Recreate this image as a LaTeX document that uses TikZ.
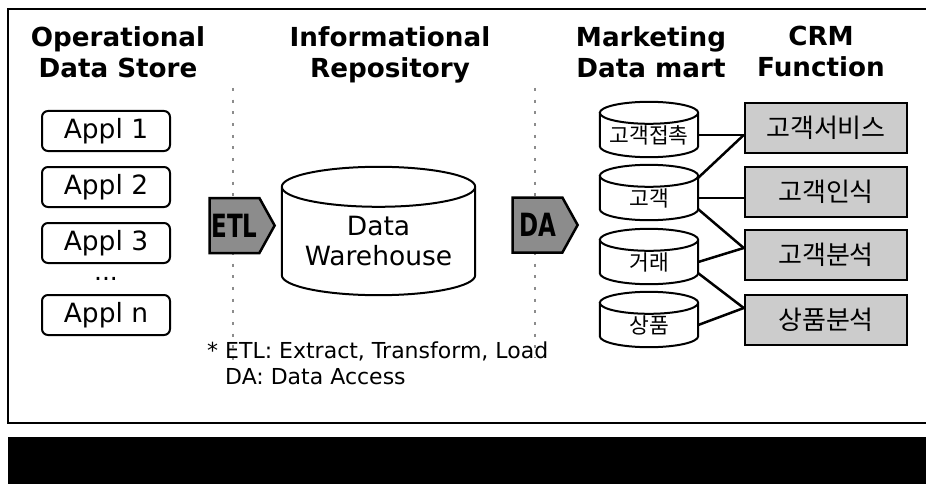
\documentclass[tikz,border=0pt]{standalone}
\usepackage{fontspec}
\setmainfont{DejaVu Sans}
\newfontfamily\kofont{Noto Sans CJK KR}
\newfontfamily\tagfont[FakeStretch=0.72]{DejaVu Sans Bold}
\usetikzlibrary{shapes.symbols,calc}

\tikzset{
  headtext/.style={anchor=north,inner sep=0,align=center,font=\bfseries\fontsize{26.2}{31}\selectfont},
  applbox/.style={draw,line width=2pt,rounded corners=6pt,minimum width=128pt,minimum height=40pt,inner sep=0,font=\fontsize{26.5}{30}\selectfont},
  stagebox/.style={signal,signal to=east,signal pointer angle=122,draw,line width=2.5pt,fill=black!45,minimum width=65pt,minimum height=55pt,inner sep=0,font=\tagfont\fontsize{32}{34}\selectfont},
  dbbody/.style={inner sep=0},
  martdb/.style={dbbody,minimum width=98pt,minimum height=44pt,font=\kofont\fontsize{21.5}{24}\selectfont},
  crmbox/.style={draw,line width=2.5pt,fill=black!20,minimum width=162pt,minimum height=50pt,inner sep=0,font=\kofont\fontsize{26}{28}\selectfont},
  dbline/.style={line width=2pt},
  link/.style={line width=2.5pt},
  sepline/.style={black!45,line width=2pt,dash pattern=on 3pt off 8.7pt}
}

% cylinder round a body node: #1 node name, #2 radius of the end ellipses
\newcommand{\drawdb}[2]{%
  \draw[dbline] let \p1=(#1.west), \p2=(#1.east), \n1={(\x2-\x1)/2} in
    (#1.north west) -- ([yshift=#2]#1.south west)
    arc[start angle=180,end angle=360,x radius=\n1,y radius=#2]
    -- (#1.north east)
    arc[start angle=0,end angle=360,x radius=\n1,y radius=#2];
}

\begin{document}
\begin{tikzpicture}[x=1pt,y=1pt]
\useasboundingbox (0,0) rectangle (926,-484);

% frame and bottom bar
\draw[line width=2.5pt] (926,-9) -- (8,-9) -- (8,-423) -- (926,-423);
\fill[black] (8,-437) rectangle (926,-484);

% column heads
\node[headtext] (hODS) at (118,-26) {Operational\\Data Store};
\node[headtext] (hIR) at (390,-26) {Informational\\Repository};
\node[headtext] (hDM) at (651,-26) {Marketing\\Data mart};
\node[headtext] (hCRM) at (821,-26) {CRM\\Function};

% operational systems
\node[applbox] (A1) at (106,-131) {Appl 1};
\node[applbox] (A2) at (106,-187) {Appl 2};
\node[applbox] (A3) at (106,-243) {Appl 3};
\node[inner sep=0,font=\fontsize{25}{30}\selectfont] (Adots) at (106,-279) {...};
\node[applbox] (An) at (106,-315) {Appl n};

% separators
\coordinate (etlTop) at (233,-88);
\coordinate (etlBot) at (233,-360);
\coordinate (daTop) at (535,-88);
\coordinate (daBot) at (535,-358);
\draw[sepline] (etlTop) -- (etlBot);
\draw[sepline] (daTop) -- (daBot);

\node[stagebox] (ETL) at (234.5,-225.5) {ETL};
\node[stagebox] (DA) at (537.5,-225) {DA};

% warehouse
\node[dbbody,minimum width=193pt,minimum height=108pt,align=center,font=\fontsize{26.5}{30}\selectfont] (DW) at (378.5,-241) {Data\\Warehouse};
\drawdb{DW}{20pt}

% data marts
\node[martdb] (cont) at (649,-135) {고객접촉};
\node[martdb] (cust) at (649,-198) {고객};
\node[martdb] (trade) at (649,-262) {거래};
\node[martdb] (prod) at (649,-325) {상품};
\foreach \db in {cont,cust,trade,prod} {\drawdb{\db}{11pt}}

% crm functions
\node[crmbox] (fsrv) at (826,-128) {고객서비스};
\node[crmbox] (frec) at (826,-192) {고객인식};
\node[crmbox] (fana) at (826,-255) {고객분석};
\node[crmbox] (fprd) at (826,-320) {상품분석};

\draw[link] (cont.east) -- (cont.east -| fsrv.west);
\draw[link] ([yshift=-2pt]cust.north east) -- ([yshift=-7pt]fsrv.west);
\draw[link] (cust.east) -- (cust.east -| frec.west);
\draw[link] ([yshift=11pt]cust.south east) -- ([yshift=7pt]fana.west);
\draw[link] (trade.east) -- ([yshift=7pt]fana.west);
\draw[link] ([yshift=11pt]trade.south east) -- ([yshift=12pt]fprd.west);
\draw[link] (prod.east) -- ([yshift=12pt]fprd.west);

% footnote
\node[anchor=base west,inner sep=0,align=left,font=\fontsize{22}{26}\selectfont] (note) at (207,-384) {* ETL: Extract, Transform, Load\\\hphantom{* }DA: Data Access};
\end{tikzpicture}
\end{document}
